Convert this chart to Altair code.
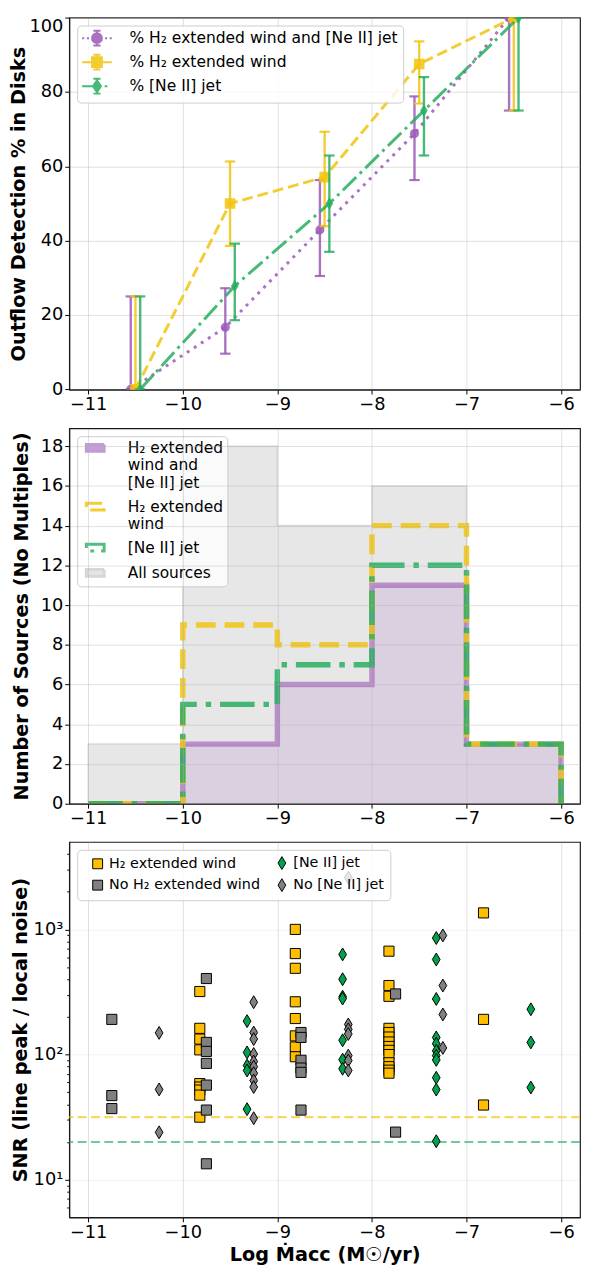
import altair as alt
import pandas as pd

FONT = "DejaVu Sans"

# ---------------- panel 1: detection fractions ----------------
bin_centers = [-10.5, -9.5, -8.5, -7.5, -6.5]
both_pct = [0.0, 16.7, 42.9, 68.8, 100.0]
both_err_lo = [0.0, 9.6, 30.5, 56.3, 75.0]
both_err_hi = [25.0, 27.2, 56.3, 78.8, 100.0]
wind_pct = [0.0, 50.0, 57.1, 87.5, 100.0]
wind_err_lo = [0.0, 38.6, 43.9, 76.9, 75.0]
wind_err_hi = [25.0, 61.3, 69.3, 93.6, 100.0]
jet_pct = [0.0, 27.8, 50.0, 75.0, 100.0]
jet_err_lo = [0.0, 18.6, 37.0, 62.9, 75.0]
jet_err_hi = [25.0, 39.2, 62.9, 84.0, 100.0]
p1_series = ["% H₂ extended wind and [Ne II] jet", "% H₂ extended wind", "% [Ne II] jet"]
p1_shift = [-0.05, 0.0, 0.05]

# ---------------- panel 2: histogram counts ----------------
hist_edges = [-11, -10, -9, -8, -7, -6]
hist_all = [3, 18, 14, 16, 3]
hist_both = [0, 3, 6, 11, 3]
hist_wind = [0, 9, 8, 14, 3]
hist_jet = [0, 5, 7, 12, 3]
p2_series = ["H₂ extended|wind and|[Ne II] jet", "H₂ extended|wind", "[Ne II] jet", "All sources"]

# ---------------- panel 3: SNR scatter ----------------
wind_mdot = [-9.82, -8.81, -7.82, -6.82]
wind_snr = [
    [319, 162, 133, 109, 58.6, 55, 52, 47.4, 31.6],
    [1000, 641, 489, 264, 194, 141, 115, 96],
    [670, 356, 292, 162, 150, 138, 126, 116, 108, 100, 86, 80, 75, 71],
    [1355, 191, 39.5],
]
nowind_mdot = [-10.75, -9.75, -8.75, -7.75]
nowind_snr = [
    [191, 47, 37],
    [405, 125, 106, 85, 57, 36, 13.4],
    [150, 137, 90, 78, 72, 36],
    [305, 24],
]
jet_mdot = [-9.32, -8.31, -7.32, -6.32]
jet_snr = [
    [185, 104, 81.7, 74.6, 36.6],
    [631, 400, 290, 280, 130, 91, 77],
    [853, 575, 278, 137, 122, 107, 98, 90.6, 65.3, 52.5, 20.3],
    [230, 125, 54.5],
]
nojet_mdot = [-10.25, -9.25, -8.25, -7.25]
nojet_snr = [
    [149, 52.6, 23.9],
    [262, 150, 133, 101, 88, 80, 71, 62, 55, 31],
    [2588, 174, 159, 146, 98, 89.6, 74.6],
    [895, 356, 209, 113],
]
wind_thresh = 31.6
jet_thresh = 20.0
p3_series = ["H₂ extended wind", "No H₂ extended wind", "[Ne II] jet", "No [Ne II] jet"]

x_ticks = [-11, -10, -9, -8, -7, -6]
y1_ticks = [0, 20, 40, 60, 80, 100]
y2_ticks = [0, 2, 4, 6, 8, 10, 12, 14, 16, 18]
y3_ticks = [6, 7, 8, 9, 10, 20, 30, 40, 50, 60, 70, 80, 90, 100, 200, 300, 400, 500,
            600, 700, 800, 900, 1000, 2000, 3000, 4000]

# ---------------- styling ----------------
PURPLE, YELLOW, GREEN = "#9b59b6", "#f1c40f", "#27ae60"
GOLD, DKGREEN, GREY = "#ffbf00", "#00a14b", "#808080"
THIN_DIAMOND = "M0,-1L0.62,0L0,1L-0.62,0Z"
W = 517
H1, H2, H3 = 376.5, 380, 380

xs = alt.Scale(domain=[-11.2, -5.8], nice=False, zero=False)


def x_enc(title=None):
    return alt.X("mdot:Q", scale=xs,
                 axis=alt.Axis(values=x_ticks, format="d", labelFlush=False, title=title))


# ---------------- panel 1 ----------------
rows = []
for s, pct, lo, hi, dx in zip(p1_series, [both_pct, wind_pct, jet_pct],
                              [both_err_lo, wind_err_lo, jet_err_lo],
                              [both_err_hi, wind_err_hi, jet_err_hi], p1_shift):
    for c, p, l, h in zip(bin_centers, pct, lo, hi):
        rows.append({"series": s, "mdot": c + dx, "pct": p, "lo": l, "hi": h})
df1 = pd.DataFrame(rows)

# the tiny negative lower bound keeps the "0" label centred while "100" is kept inside the frame
y1s = alt.Scale(domain=[-0.05, 100], nice=False, zero=False)
y1_axis = alt.Axis(values=y1_ticks, format="d", title="Outflow Detection % in Disks",
                   titlePadding=0, labelFlush=0.05)

p1_colors = [PURPLE, YELLOW, GREEN]
p1_dash = [[3, 5.5], [11, 5], [19, 5, 3, 5]]
p1_shape = ["circle", "square", THIN_DIAMOND]
p1_size = [85, 115, 155]
layers1 = []
for s, col, dash, shp, sz in zip(p1_series, p1_colors, p1_dash, p1_shape, p1_size):
    base = alt.Chart(df1).transform_filter(alt.datum.series == s)
    layers1.append(base.mark_line(color=col, strokeWidth=3, strokeDash=dash, opacity=0.85, clip=True)
                   .encode(x=x_enc(), y=alt.Y("pct:Q", scale=y1s, axis=y1_axis)))
    layers1.append(base.mark_rule(color=col, strokeWidth=2.4, opacity=0.85, clip=True)
                   .encode(x=x_enc(), y=alt.Y("lo:Q", scale=y1s, axis=y1_axis), y2="hi:Q"))
    for fld in ["lo", "hi"]:
        layers1.append(base.mark_point(shape="M-1,0L1,0", size=110, strokeWidth=2.2, color=col,
                                       opacity=0.85, clip=True)
                       .encode(x=x_enc(), y=alt.Y(f"{fld}:Q", scale=y1s, axis=y1_axis)))
    layers1.append(base.mark_point(shape=shp, size=sz, filled=True, color=col, opacity=0.85,
                                   strokeWidth=0, clip=True)
                   .encode(x=x_enc(), y=alt.Y("pct:Q", scale=y1s, axis=y1_axis)))

eb = "M0,-1.25L0,1.25M-0.6,-1.25L0.6,-1.25M-0.6,1.25L0.6,1.25"
circ = "M0.83,0A0.83,0.83,0,1,1,-0.83,0A0.83,0.83,0,1,1,0.83,0Z"
p1_legend_paths = [
    "M-2.5,0L-2.15,0M-1.7,0L-1.35,0M1.35,0L1.7,0M2.15,0L2.5,0" + eb + circ,
    "M-2.5,0L-0.6,0M0.6,0L2.5,0" + eb + "M-0.83,-0.83L0.83,-0.83L0.83,0.83L-0.83,0.83Z",
    "M-2.5,0L-0.7,0M1.3,0L1.75,0" + eb + "M0,-1L0.67,0L0,1L-0.67,0Z",
]
leg1 = alt.Legend(title=None, orient="top-left", offset=8, labelFontSize=15.7,
                  labelFont=FONT, labelColor="black", symbolSize=144, symbolStrokeWidth=2,
                  symbolOffset=7.2, labelOffset=25, rowPadding=0.3, padding=5,
                  fillColor="rgba(255,255,255,0.8)", strokeColor="#cccccc", cornerRadius=4,
                  symbolOpacity=0.85, labelLimit=500)
layers1.append(alt.Chart(df1).transform_filter("false").mark_point().encode(
    fill=alt.Fill("series:N", scale=alt.Scale(domain=p1_series, range=p1_colors), legend=leg1),
    stroke=alt.Stroke("series:N", scale=alt.Scale(domain=p1_series, range=p1_colors), legend=leg1),
    shape=alt.Shape("series:N", scale=alt.Scale(domain=p1_series, range=p1_legend_paths), legend=leg1),
))
p1 = alt.layer(*layers1).properties(width=W, height=H1)

# ---------------- panel 2 ----------------
rows2 = []
for key, counts in zip(["all", "both", "wind", "jet"], [hist_all, hist_both, hist_wind, hist_jet]):
    held = counts + [counts[-1]]
    dropped = counts + [0]
    for e, h, d in zip(hist_edges, held, dropped):
        rows2.append({"key": key, "mdot": e, "held": h, "dropped": d})
df2 = pd.DataFrame(rows2)

y2s = alt.Scale(domain=[0, 18.9], nice=False)
y2_axis = alt.Axis(values=y2_ticks, format="d", title="Number of Sources (No Multiples)",
                   titlePadding=9, zindex=1)
x2 = alt.X("mdot:Q", scale=xs, axis=alt.Axis(values=x_ticks, format="d", labelFlush=False,
                                              title=None, zindex=1))


def sub2(key):
    return alt.Chart(df2).transform_filter(alt.datum.key == key)


layers2 = [
    sub2("all").mark_area(interpolate="step-after", fill="#d3d3d3", fillOpacity=0.55,
                          stroke="#c4c4c4", strokeOpacity=0.6, strokeWidth=1.5, clip=True)
    .encode(x=x2, y=alt.Y("held:Q", scale=y2s, axis=y2_axis)),
    sub2("both").mark_area(interpolate="step-after", fill=PURPLE, fillOpacity=0.16, clip=True)
    .encode(x=x2, y=alt.Y("held:Q", scale=y2s, axis=y2_axis)),
    sub2("both").mark_line(interpolate="step-after", color=PURPLE, opacity=0.6, strokeWidth=5.5,
                           clip=True)
    .encode(x=x2, y=alt.Y("dropped:Q", scale=y2s, axis=y2_axis)),
    sub2("wind").mark_line(interpolate="step-after", color=YELLOW, opacity=0.85, strokeWidth=5.5,
                           strokeDash=[20, 9], clip=True)
    .encode(x=x2, y=alt.Y("dropped:Q", scale=y2s, axis=y2_axis)),
    sub2("jet").mark_line(interpolate="step-after", color=GREEN, opacity=0.85, strokeWidth=5.5,
                          strokeDash=[35, 9, 5.5, 9], clip=True)
    .encode(x=x2, y=alt.Y("dropped:Q", scale=y2s, axis=y2_axis)),
]
rect = "M-1.5,-0.58L1.5,-0.58L1.5,0.58L-1.5,0.58Z"
leg2 = alt.Legend(title=None, orient="top-left", offset=8, labelFontSize=15.6,
                  labelFont=FONT, labelColor="black", symbolSize=144, symbolStrokeWidth=3,
                  symbolOffset=6.5, labelOffset=25, rowPadding=5.5, padding=4,
                  fillColor="rgba(255,255,255,0.8)", strokeColor="#cccccc", cornerRadius=4,
                  labelLimit=500, labelExpr="split(datum.label, '|')")
layers2.append(alt.Chart(df2).transform_filter("false").mark_point(shape=rect, opacity=1).encode(
    fill=alt.Fill("key:N", scale=alt.Scale(domain=p2_series,
                                           range=["#c4a0d6", "transparent", "transparent", "#e4e4e4"]),
                  legend=leg2),
    stroke=alt.Stroke("key:N", scale=alt.Scale(domain=p2_series,
                                               range=["#c39bd3", "#f3cd33", "#52be80", "#d6d6d6"]),
                      legend=leg2),
    strokeDash=alt.StrokeDash("key:N", scale=alt.Scale(domain=p2_series,
                                                       range=[[1, 0], [16, 7], [28, 7, 4, 7], [1, 0]]),
                              legend=leg2),
    shape=alt.Shape("key:N", scale=alt.Scale(domain=p2_series, range=[rect, rect, rect, rect]),
                    legend=leg2),
))
p2 = alt.layer(*layers2).properties(width=W, height=H2)

# ---------------- panel 3 ----------------
rows3 = []
for cat, mdots, snrs in [("wind", wind_mdot, wind_snr), ("nowind", nowind_mdot, nowind_snr),
                         ("jet", jet_mdot, jet_snr), ("nojet", nojet_mdot, nojet_snr)]:
    for m, vals in zip(mdots, snrs):
        for v in vals:
            rows3.append({"cat": cat, "mdot": m, "snr": v})
df3 = pd.DataFrame(rows3)
dfthr = pd.DataFrame({"kind": ["wind", "jet"], "snr": [wind_thresh, jet_thresh]})

major = "datum.value == 10 || datum.value == 100 || datum.value == 1000"
y3s = alt.Scale(type="log", domain=[5, 5000], nice=False)
y3_axis = alt.Axis(values=y3_ticks, title="SNR (line peak / local noise)", titlePadding=2.7,
                   labelOverlap=False,
                   labelExpr="datum.value == 10 ? '10¹' : datum.value == 100 ? '10²' : datum.value == 1000 ? '10³' : ''",
                   tickSize={"condition": {"test": major, "value": 4.5}, "value": 2.5},
                   gridOpacity={"condition": {"test": major, "value": 0.4}, "value": 0})
y3 = alt.Y("snr:Q", scale=y3s, axis=y3_axis)

SQUARE = "M-1,-1L1,-1L1,1L-1,1Z"
DIAM3 = "M0,-1L0.6,0L0,1L-0.6,0Z"
layers3 = [
    alt.Chart(dfthr).transform_filter(alt.datum.kind == "wind")
    .mark_rule(color=YELLOW, opacity=0.65, strokeWidth=2.2, strokeDash=[9, 4.5]).encode(y=y3),
    alt.Chart(dfthr).transform_filter(alt.datum.kind == "jet")
    .mark_rule(color=GREEN, opacity=0.65, strokeWidth=2.2, strokeDash=[9, 4.5]).encode(y=y3),
]
for cat, fillc, shp, sz in [("wind", GOLD, SQUARE, 105), ("nowind", GREY, SQUARE, 105),
                            ("jet", DKGREEN, DIAM3, 170), ("nojet", GREY, DIAM3, 170)]:
    layers3.append(alt.Chart(df3).transform_filter(alt.datum.cat == cat)
                   .mark_point(shape=shp, size=sz, filled=True,
                               fill=fillc, stroke="black", strokeWidth=1, opacity=1)
                   .encode(x=x_enc("Log Ṁacc (M☉/yr)"), y=y3))

DIAM_LEG = "M0,-1.3L0.78,0L0,1.3L-0.78,0Z"
leg3 = alt.Legend(title=None, orient="top-left", offset=7.5, columns=2,
                  labelFontSize=14.5, labelFont=FONT, labelColor="black", symbolSize=100,
                  symbolStrokeWidth=1, symbolOffset=7.5,
                  labelOffset=4.3, columnPadding=6.5, rowPadding=4.5, padding=6,
                  fillColor="rgba(255,255,255,0.8)", strokeColor="#cccccc", cornerRadius=4,
                  labelLimit=500)
layers3.append(alt.Chart(df3).transform_filter("false").mark_point(filled=True, opacity=1).encode(
    fill=alt.Fill("cat:N", scale=alt.Scale(domain=p3_series, range=[GOLD, GREY, DKGREEN, GREY]),
                  legend=leg3),
    stroke=alt.Stroke("cat:N", scale=alt.Scale(domain=p3_series,
                                               range=["black", "black", "black", "black"]),
                      legend=leg3),
    shape=alt.Shape("cat:N", scale=alt.Scale(domain=p3_series,
                                             range=[SQUARE, SQUARE, DIAM_LEG, DIAM_LEG]),
                    legend=leg3),
))
p3 = alt.layer(*layers3).properties(width=W, height=H3)

chart = (
    alt.vconcat(p1, p2, p3, spacing=38.7, bounds="flush")
    .resolve_scale(fill="independent", stroke="independent", shape="independent",
                   strokeDash="independent")
    .resolve_legend(fill="independent", stroke="independent", shape="independent",
                    strokeDash="independent")
    .properties(padding={"left": 0, "top": 0, "right": 0, "bottom": 0})
    .configure(padding=0)
    .configure_view(stroke="#1a1a1a", strokeWidth=1.2)
    .configure_axis(labelFont=FONT, titleFont=FONT, labelFontSize=18, titleFontSize=19.5,
                    titleFontWeight="bold", labelColor="black", titleColor="black",
                    tickColor="black", domainColor="#1a1a1a", tickSize=4.5, labelPadding=2,
                    gridColor="#b0b0b0", gridOpacity=0.4)
    .configure_axisX(titlePadding=4)
)

chart.save("out.html", embed_options={"renderer": "svg", "actions": False})
